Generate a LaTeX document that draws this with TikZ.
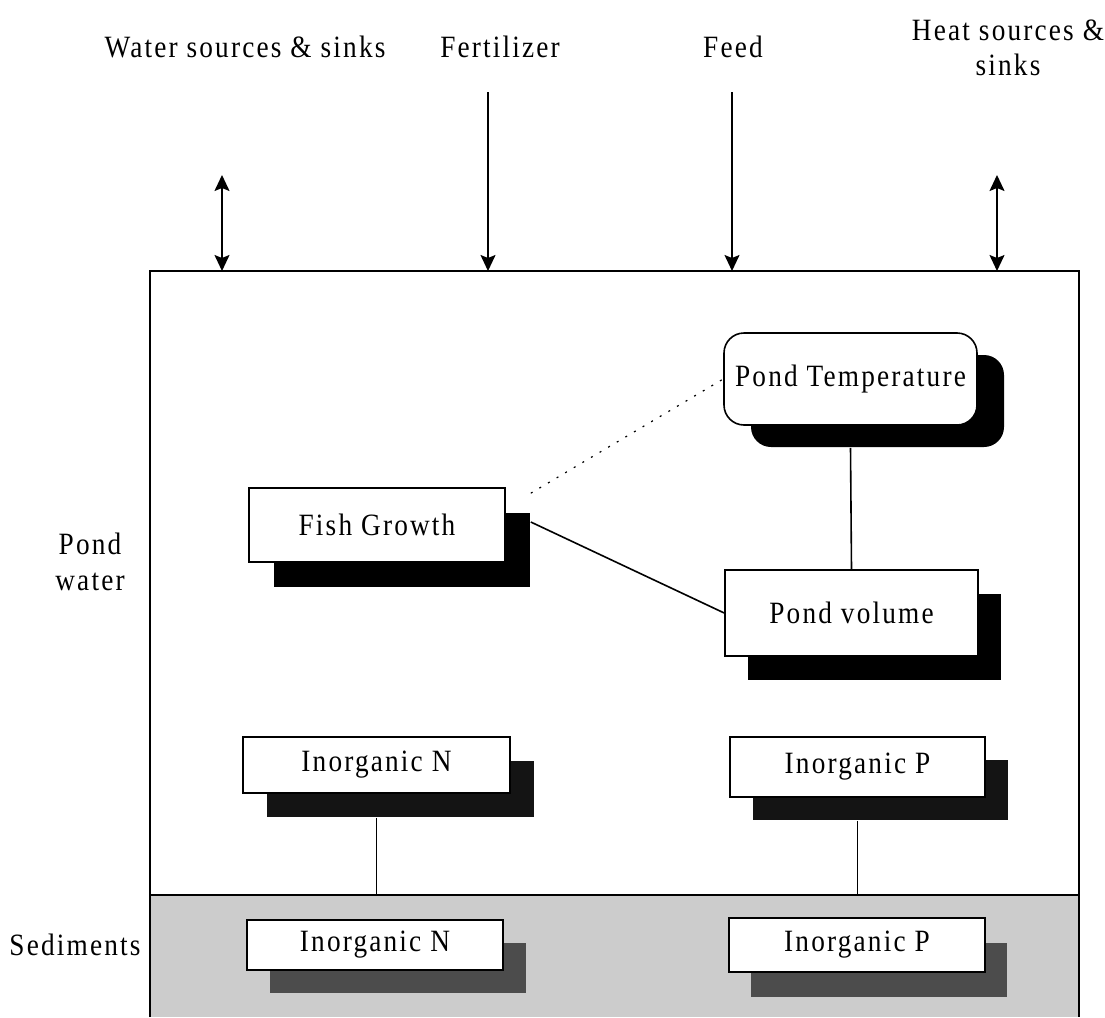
\documentclass[tikz,border=0pt]{standalone}
\usepackage{fontspec}
\setmainfont{Liberation Serif}
\newfontfamily\labfont{Liberation Serif}[FakeStretch=0.88, LetterSpace=7]
\usetikzlibrary{arrows.meta,shadows}
\definecolor{sedfill}{gray}{0.80}
\definecolor{sedshadow}{gray}{0.30}
\definecolor{watshadow}{gray}{0.08}
\begin{document}
\begin{tikzpicture}[x=1pt,y=-1pt,
  txt/.style={font=\labfont\fontsize{31}{36}\selectfont, inner sep=0pt, align=center},
  box/.style n args={2}{txt, draw, line width=1.6pt, fill=white,
    minimum width=#1pt, minimum height=#2pt},
  sh/.style n args={3}{drop shadow={shadow xshift=#1pt, shadow yshift=-#2pt,
    fill=#3, opacity=1}},
  link/.style={line width=1.6pt},
  tip/.tip={Stealth[length=16pt,width=15pt,inset=3pt]},
  flow/.style={line width=1.6pt, -tip},
  flow2/.style={line width=1.6pt, tip-tip}
  ]
\useasboundingbox (0,0) rectangle (1105,1017);

% pond compartments
\fill[sedfill] (150,895) rectangle (1079,1017);
\draw[link] (150,895) -- (1079,895);
\draw[link] (150,1017) -- (150,271) -- (1079,271) -- (1079,1017);
\coordinate (sedtopN) at (376.5,895);
\coordinate (sedtopP) at (857.5,895);

% inputs and outputs along the water surface
\node[txt] (water) at (245,47) {Water sources \& sinks};
\node[txt] (fert)  at (500,47) {Fertilizer};
\node[txt] (feed)  at (733,47) {Feed};
\node[txt] (heat)  at (1008,30) {Heat sources \&};
\node[txt] (heat2) at (1008,65) {sinks};
\coordinate (w0) at (222,175); \coordinate (w1) at (222,271);
\coordinate (f0) at (488,92);  \coordinate (f1) at (488,271);
\coordinate (d0) at (732,92);  \coordinate (d1) at (732,271);
\coordinate (h0) at (997,175); \coordinate (h1) at (997,271);
\draw[flow2] (w0) -- (w1);
\draw[flow]  (f0) -- (f1);
\draw[flow]  (d0) -- (d1);
\draw[flow2] (h0) -- (h1);

% side labels
\node[txt] (pw) at (90,562) {Pond\\water};
\node[txt] (sed) at (75,945) {Sediments};

% state variables
\node[box={253}{92}, rounded corners=20pt, sh={27}{22}{black}] (temp) at (850.5,379) {Pond Temperature};
\node[box={256}{74}, sh={25}{25}{black}] (fish) at (377,525) {Fish Growth};
\node[box={253}{86}, sh={23}{24}{black}] (vol) at (851.5,613) {Pond volume};
\node[box={267}{56}, sh={24}{24}{watshadow}] (nw) at (376.5,765) {Inorganic N};
\node[box={255}{60}, sh={23}{23}{watshadow}] (pwat) at (857.5,767) {Inorganic P};
\node[box={256}{50}, sh={23}{23}{sedshadow}] (ns) at (375,945) {Inorganic N};
\node[box={256}{54}, sh={22}{25}{sedshadow}] (ps) at (857,945) {Inorganic P};

% relations
\draw[line width=1.2pt, dash pattern=on 2pt off 8pt] ([xshift=25pt,yshift=-6pt]fish.north east) -- (temp.west);
\draw[link] ([xshift=25pt,yshift=3pt]fish.east) -- (vol.west);
\draw[link] ([yshift=-22pt]temp.south) -- (vol.north);
\draw[link] ([yshift=-24pt]nw.south) -- (sedtopN);
\draw[link] ([yshift=-23pt]pwat.south) -- (sedtopP);
\end{tikzpicture}
\end{document}
